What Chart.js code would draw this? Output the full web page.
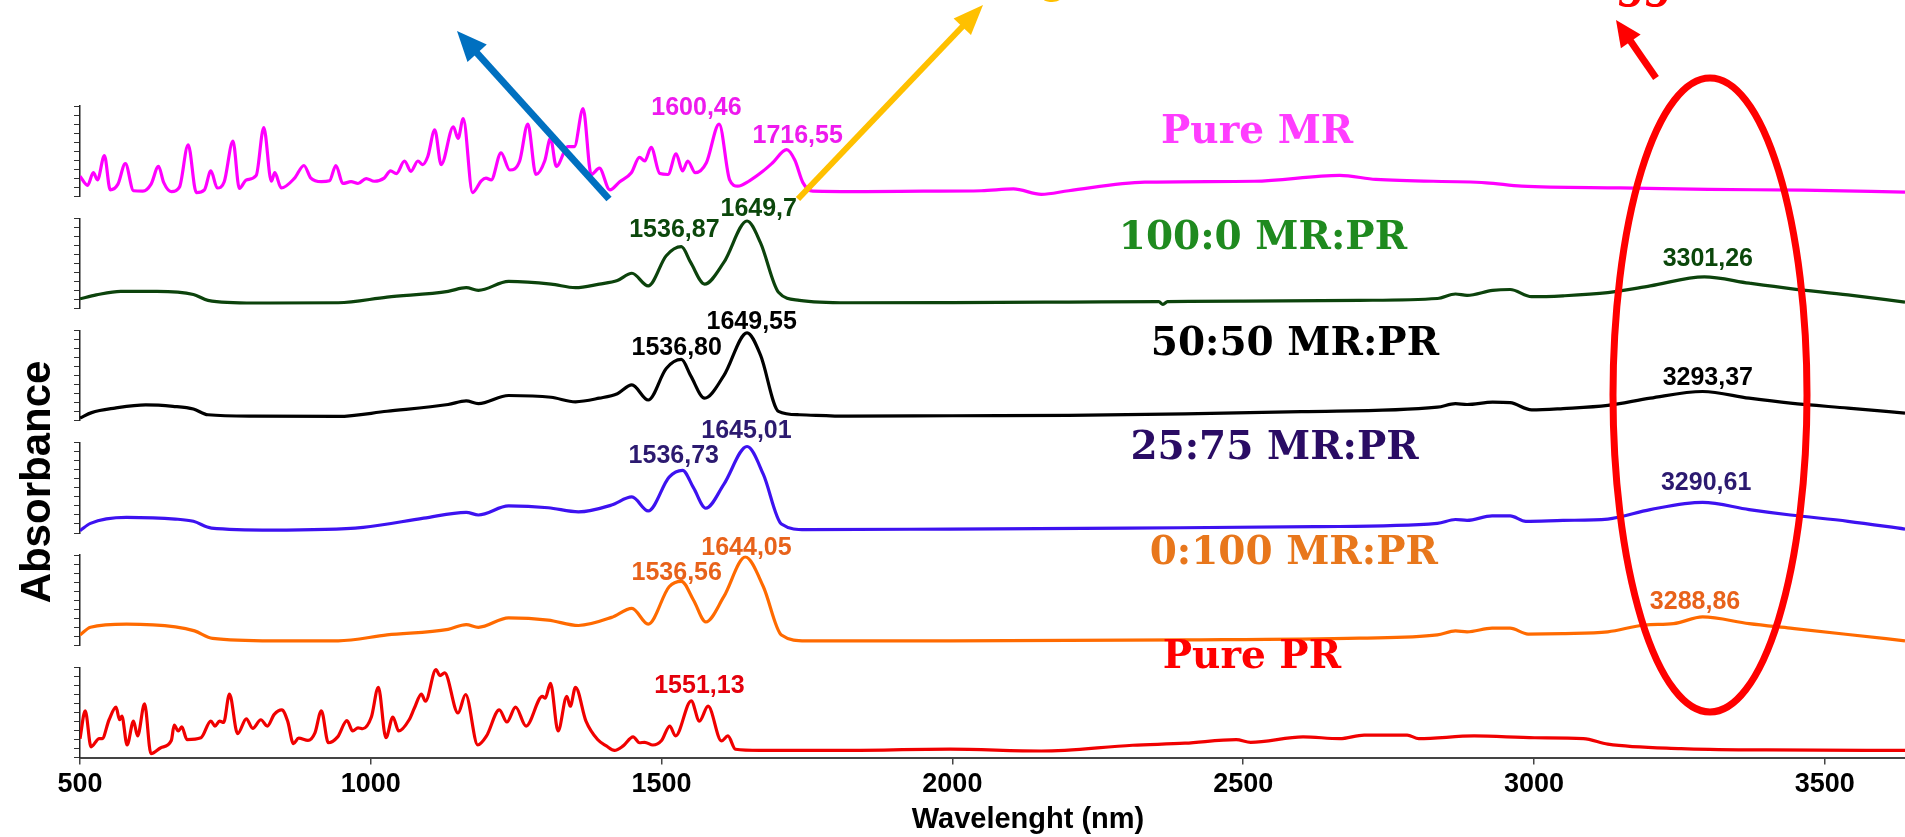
<!DOCTYPE html>
<html>
<head>
<meta charset="utf-8">
<title>FTIR spectra MR:PR</title>
<script src="https://cdn.jsdelivr.net/npm/chart.js@4.4.1/dist/chart.umd.min.js"></script>
<style>
  html, body { margin: 0; padding: 0; background: #fff; overflow: hidden; }
</style>
</head>
<body>
<canvas id="ftir" width="1905" height="837"></canvas>
<script>
// spectra: wavelength / absorbance (each trace on its own 0-10 scale)
const seriesNames = ['Pure MR', '100:0 MR:PR', '50:50 MR:PR', '25:75 MR:PR', '0:100 MR:PR', 'Pure PR'];

const waveMR = [500,513,523,530,542,552,565,578,592,608,622,635,644,657,671,686,700,714,725,736,748,763,774,786,803,816,829,835,846,869,885,897,915,929,940,952,966,978,992,1006,1023,1034,1044,1058,1069,1081,1089,1098,1110,1121,1142,1150,1159,1175,1190,1198,1207,1224,1239,1256,1270,1284,1299,1309,1319,1339,1350,1365,1379,1393,1411,1428,1448,1462,1471,1482,1497,1511,1525,1536,1545,1558,1577,1599,1617,1631,1651,1674,1691,1715,1729,1743,1760,1850,1950,2050,2105,2153,2200,2331,2519,2666,2728,2918,2979,3148,3300,3462,3638];
const absMR = [2.2,1.2,2.6,1.8,4.5,0.7,1.3,3.6,0.6,0.55,1.3,3.3,1.5,0.5,1.0,5.7,0.4,0.7,2.8,0.9,1.6,6.1,0.85,1.8,2.3,7.6,1.65,2.6,0.9,2.0,3.4,2.0,1.6,1.7,3.4,1.4,1.6,1.4,1.95,1.65,2.0,2.8,2.5,3.9,2.75,3.9,3.5,4.4,7.35,3.5,7.7,6.4,8.6,0.4,1.7,2.0,1.8,4.8,2.9,3.9,8.0,2.4,3.9,6.4,3.3,5.5,5.5,9.7,2.4,3.1,0.7,1.6,2.6,4.3,3.9,5.4,2.5,2.4,4.7,2.8,3.9,2.6,3.7,8.0,1.8,1.1,1.7,2.75,3.7,5.15,4.0,1.5,0.55,0.5,0.55,0.6,0.8,0.2,0.6,1.55,1.65,2.3,1.85,1.48,1.1,0.92,0.75,0.66,0.45];

const wave100 = [500,528,570,632,695,720,799,944,1028,1133,1164,1185,1237,1310,1352,1393,1424,1449,1477,1508,1534,1550,1574,1607,1647,1670,1701,1737,1821,2000,2200,2355,2362,2370,2500,2700,2834,2865,2885,2929,2959,2996,3050,3127,3200,3293,3370,3441,3540,3638];
const abs100 = [1.07,1.5,1.9,1.9,1.55,0.9,0.6,0.63,1.25,1.9,2.3,2.0,3.0,2.7,2.3,2.7,3.1,3.9,2.5,5.85,6.85,5.1,2.7,5.1,9.7,7.3,1.8,0.9,0.63,0.65,0.7,0.75,0.45,0.75,0.8,0.9,1.1,1.6,1.45,2.0,2.1,1.3,1.4,1.75,2.5,3.5,2.8,2.2,1.5,0.7];

const wave50 = [500,520,560,613,660,695,720,800,944,1028,1133,1164,1185,1237,1310,1352,1393,1424,1449,1477,1508,1534,1550,1574,1607,1647,1670,1701,1737,1821,2000,2200,2400,2600,2834,2865,2885,2929,2959,2996,3050,3127,3200,3290,3370,3441,3540,3638];
const abs50 = [0.3,0.9,1.4,1.76,1.6,1.3,0.66,0.5,0.48,1.05,1.8,2.2,1.9,2.8,2.6,2.1,2.5,3.0,3.97,2.3,5.8,6.8,5.0,2.5,5.0,9.75,7.3,1.04,0.66,0.5,0.55,0.6,0.75,1.0,1.5,1.9,1.8,2.06,2.0,1.2,1.35,1.7,2.5,3.24,2.5,1.95,1.4,0.85];

const wave25 = [500,518,580,664,695,726,830,987,1091,1164,1185,1237,1305,1357,1414,1449,1477,1513,1536,1555,1576,1607,1647,1675,1706,1748,1996,2300,2624,2834,2865,2885,2928,2959,2986,3050,3127,3200,3290,3370,3441,3540,3638];
const abs25 = [0.26,1.07,1.73,1.55,1.3,0.55,0.33,0.63,1.65,2.3,2.0,3.0,2.8,2.35,3.1,4.0,2.45,6.2,6.95,5.0,2.75,5.4,9.6,6.5,1.0,0.37,0.44,0.55,0.7,1.07,1.5,1.4,1.9,1.9,1.3,1.4,1.55,2.6,3.4,2.6,2.0,1.3,0.44];

const wave0 = [500,518,580,664,697,728,830,944,1028,1133,1164,1185,1237,1305,1357,1414,1449,1477,1513,1534,1555,1576,1607,1644,1675,1706,1748,1996,2400,2700,2834,2865,2885,2928,2959,2990,3050,3127,3190,3240,3290,3370,3441,3540,3638];
const abs0 = [1.15,2.0,2.35,2.05,1.6,0.77,0.5,0.5,1.15,1.77,2.3,2.0,3.05,2.8,2.2,3.1,4.1,2.35,6.5,7.1,5.0,2.6,5.4,9.8,6.5,1.15,0.5,0.5,0.6,0.8,1.15,1.6,1.5,1.9,1.9,1.25,1.3,1.5,2.25,2.4,3.15,2.4,1.9,1.2,0.5];

const wavePR = [500,509,519,533,538,550,562,568,572,581,592,599,611,622,639,657,662,669,675,684,708,725,732,740,747,757,771,786,797,811,822,834,847,857,867,876,892,904,915,927,943,959,969,978,986,1001,1013,1026,1038,1048,1066,1075,1087,1094,1112,1119,1127,1150,1163,1184,1199,1221,1234,1249,1267,1295,1300,1309,1322,1337,1343,1352,1370,1390,1405,1419,1434,1451,1462,1471,1485,1500,1514,1524,1551,1565,1580,1603,1614,1627,1669,1800,1996,2153,2310,2400,2488,2513,2603,2666,2708,2782,2802,2897,3001,3085,3127,3253,3400,3638];
const absPR = [2.1,5.2,1.2,2.1,2.1,4.2,5.6,4.2,4.6,1.4,4.05,2.4,5.95,0.44,1.1,1.9,3.6,2.95,3.4,2.0,2.2,4.05,3.5,4.05,3.9,7.05,2.65,4.3,3.25,4.2,3.5,4.8,5.3,4.05,1.55,2.15,1.9,2.75,5.2,1.65,2.3,4.1,2.95,3.3,3.2,4.5,7.8,2.2,4.5,2.95,4.2,5.5,7.05,6.25,9.75,9.1,9.4,4.95,7.0,1.4,2.4,5.3,3.95,5.6,3.5,6.8,6.6,8.25,2.95,6.8,5.7,7.8,4.05,2.0,1.3,0.8,1.3,2.3,1.65,1.7,1.4,1.9,3.5,2.4,6.3,4.05,5.7,1.85,2.4,0.93,0.8,0.8,0.93,0.73,1.37,1.6,2.0,1.7,2.3,2.1,2.5,2.5,2.1,2.4,2.2,2.1,1.5,1.0,0.85,0.8];

// peak labels printed on each trace
const peakText = [
  ['1600,46', '1716,55'],
  ['1536,87', '1649,7', '3301,26'],
  ['1536,80', '1649,55', '3293,37'],
  ['1536,73', '1645,01', '3290,61'],
  ['1536,56', '1644,05', '3288,86'],
  ['1551,13']
];

const xTicks = [500, 1000, 1500, 2000, 2500, 3000, 3500];

// ---- styling ----
const lineColors = ['#ff00ff', '#0c430c', '#000000', '#3d12f0', '#ff6a00', '#f00000'];
const nameColors = ['#ff3dff', '#1f8a1f', '#000000', '#2a0c64', '#e8771c', '#ff0000'];
const peakColors = ['#ee1aee', '#0b470b', '#000000', '#2c1a70', '#e8621a', '#e4000c'];
const waves = [waveMR, wave100, wave50, wave25, wave0, wavePR];
const absorb = [absMR, abs100, abs50, abs25, abs0, absPR];

// where the text sits, in (wavelength, trace value)
const nameSpots = [[2524, 5.92], [2534, 6.58], [2589, 7.24], [2554, 8.16], [2587, 8.97], [2515, 9.92]];
const peakSpots = [
  [[1560, 9.0], [1734, 5.92]],
  [[1522, 7.9], [1667, 10.2], [3299, 4.7]],
  [[1526, 7.24], [1655, 10.2], [3299, 3.94]],
  [[1521, 7.8], [1646, 10.55], [3296, 4.82]],
  [[1526, 7.24], [1646, 10.0], [3277, 4.05]],
  [[1565, 7.13]]
];

const sans = '"Liberation Sans", Arial, sans-serif';

const datasets = seriesNames.map((name, i) => ({
  label: name,
  data: waves[i].map((w, k) => ({ x: w, y: absorb[i][k] })),
  xAxisID: 'x',
  yAxisID: 'y' + i,
  borderColor: lineColors[i],
  borderWidth: 3.2,
  pointRadius: 0,
  fill: false,
  cubicInterpolationMode: 'monotone'
}));

// six stacked trace axes with thin spacer axes between them
const scales = {
  x: {
    type: 'linear',
    position: 'bottom',
    min: 500,
    max: 3638,
    afterBuildTicks: (s) => { s.ticks = xTicks.map(v => ({ value: v })); },
    ticks: {
      color: '#000',
      font: { family: sans, size: 27, weight: 'bold' },
      padding: 4,
      maxRotation: 0,
      callback: (v) => String(v)
    },
    grid: { drawOnChartArea: false, tickLength: 7, tickColor: '#444', lineWidth: 1.5 },
    border: { display: true, color: '#444', width: 2 }
  }
};
for (let i = 0; i < 6; i++) {
  scales['y' + i] = {
    axis: 'y',
    type: 'linear',
    position: 'left',
    stack: 'spectra',
    stackWeight: 90.7,
    weight: 20 - i * 2,
    min: 0,
    max: 10,
    ticks: { display: false, stepSize: 1 },
    grid: { drawOnChartArea: false, drawTicks: true, tickLength: 6, tickColor: '#333', lineWidth: 1 },
    border: { display: true, color: '#222', width: 1.5 }
  };
  if (i < 5) {
    scales['gap' + i] = {
      axis: 'y',
      type: 'linear',
      position: 'left',
      stack: 'spectra',
      stackWeight: 22.3,
      weight: 19 - i * 2,
      ticks: { display: false },
      grid: { display: false, drawTicks: false },
      border: { display: false }
    };
  }
}

function arrow(ctx, x1, y1, x2, y2, color, width, headLen, headHalf) {
  const a = Math.atan2(y2 - y1, x2 - x1);
  const bx = x2 - headLen * Math.cos(a), by = y2 - headLen * Math.sin(a);
  ctx.strokeStyle = color;
  ctx.fillStyle = color;
  ctx.lineWidth = width;
  ctx.lineCap = 'butt';
  ctx.beginPath();
  ctx.moveTo(x1, y1);
  ctx.lineTo(bx + 2 * Math.cos(a), by + 2 * Math.sin(a));
  ctx.stroke();
  ctx.beginPath();
  ctx.moveTo(x2, y2);
  ctx.lineTo(bx + headHalf * Math.sin(a), by - headHalf * Math.cos(a));
  ctx.lineTo(bx - headHalf * Math.sin(a), by + headHalf * Math.cos(a));
  ctx.closePath();
  ctx.fill();
}

const overlay = {
  id: 'overlay',
  afterDraw(chart) {
    const { ctx } = chart;
    const xs = chart.scales.x;
    ctx.save();
    ctx.textAlign = 'center';
    ctx.textBaseline = 'alphabetic';

    // trace names
    ctx.font = 'bold 39px "DejaVu Serif", "Liberation Serif", serif';
    seriesNames.forEach((name, i) => {
      const ys = chart.scales['y' + i];
      ctx.fillStyle = nameColors[i];
      ctx.fillText(name, xs.getPixelForValue(nameSpots[i][0]), ys.getPixelForValue(nameSpots[i][1]));
    });

    // peak positions
    ctx.font = 'bold 25px ' + sans;
    peakText.forEach((list, i) => {
      const ys = chart.scales['y' + i];
      ctx.fillStyle = peakColors[i];
      list.forEach((t, k) => {
        const [w, v] = peakSpots[i][k];
        ctx.fillText(t, xs.getPixelForValue(w), ys.getPixelForValue(v));
      });
    });

    // axis titles
    ctx.fillStyle = '#000';
    ctx.font = 'bold 29px ' + sans;
    ctx.fillText('Wavelenght (nm)', 1028, 828);
    ctx.save();
    ctx.translate(50, 482);
    ctx.rotate(-Math.PI / 2);
    ctx.font = 'bold 42px ' + sans;
    ctx.fillText('Absorbance', 0, 0);
    ctx.restore();

    // marked region around the 3290 band
    ctx.strokeStyle = '#ff0000';
    ctx.lineWidth = 7;
    ctx.beginPath();
    ctx.ellipse(1710, 395, 97, 317, 0, 0, Math.PI * 2);
    ctx.stroke();

    // pointer arrows
    arrow(ctx, 609, 199, 457, 31, '#0070c0', 7, 30, 13);
    arrow(ctx, 798, 199, 983, 5, '#ffc000', 6, 30, 12);
    arrow(ctx, 1656, 78, 1616, 20, '#ff0000', 7, 26, 12);

    // captions cut off by the top edge
    ctx.textAlign = 'left';
    ctx.font = 'italic bold 54px "Liberation Serif", serif';
    ctx.fillStyle = '#ff0000';
    ctx.fillText('gg', 1620, -5);
    ctx.fillStyle = '#ffc000';
    ctx.font = 'italic bold 50px "Liberation Serif", serif';
    ctx.fillText('g', 1045, -9);
    ctx.restore();
  }
};

new Chart(document.getElementById('ftir').getContext('2d'), {
  type: 'line',
  data: { datasets },
  options: {
    responsive: false,
    animation: false,
    layout: { padding: { left: 74, top: 106, right: 0, bottom: 32 } },
    plugins: { legend: { display: false }, tooltip: { enabled: false } },
    scales
  },
  plugins: [overlay]
});
</script>
</body>
</html>
